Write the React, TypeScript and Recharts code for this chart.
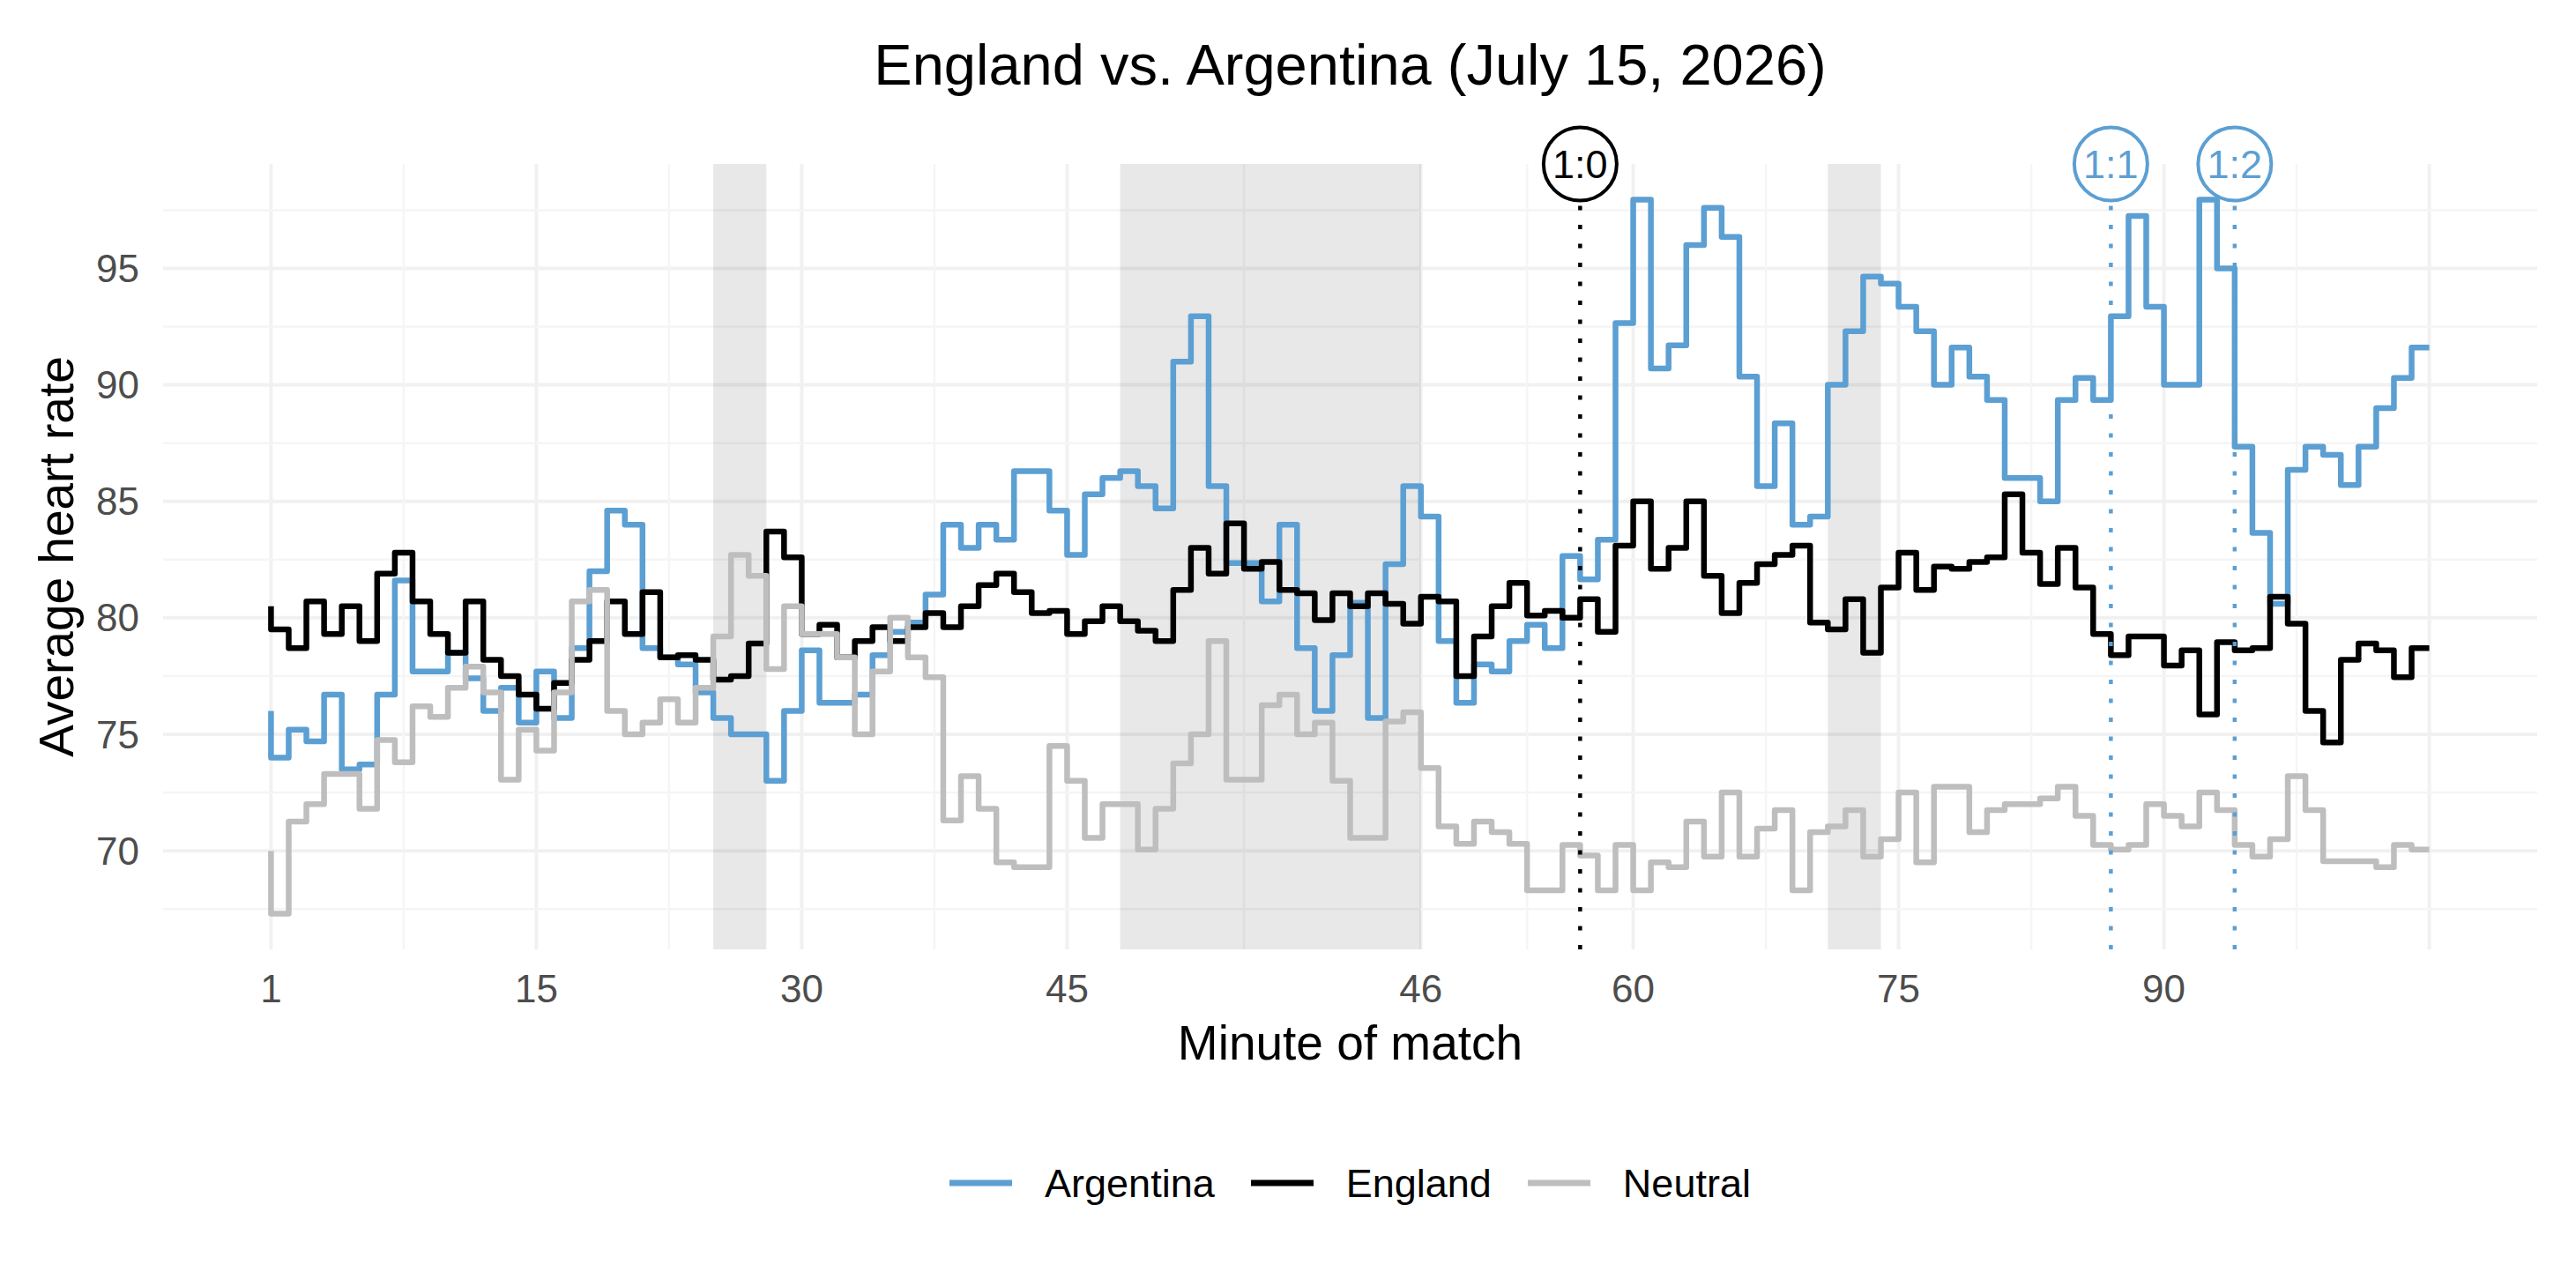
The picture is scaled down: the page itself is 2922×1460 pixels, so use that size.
import React from 'react';
import {
  ComposedChart,
  Line,
  XAxis,
  YAxis,
  CartesianGrid,
  ReferenceArea,
  ReferenceLine,
  ReferenceDot,
  Legend,
} from 'recharts';

const FONT = '"Liberation Sans", Arial, Helvetica, sans-serif';

const TITLE = 'England vs. Argentina (July 15, 2026)';
const X_TITLE = 'Minute of match';
const Y_TITLE = 'Average heart rate';

// one value per minute index (0..122)
const ARGENTINA = [
  76.0, 74.0, 75.2, 74.7, 76.7, 73.5, 73.7, 76.7, 81.6, 77.7,
  77.7, 78.5, 77.4, 76.0, 77.0, 75.5, 77.7, 75.7, 78.7, 82.0,
  84.6, 84.0, 78.7, 78.3, 78.0, 76.8, 75.7, 75.0, 75.0, 73.0,
  76.0, 78.6, 76.35, 76.35, 76.7, 78.4, 79.4, 79.8, 81.0, 84.0,
  83.0, 84.0, 83.35, 86.3, 86.3, 84.6, 82.7, 85.3, 86.0, 86.3,
  85.65, 84.7, 91.0, 92.95, 85.65, 82.35, 82.35, 80.7, 84.0, 78.7,
  76.0, 78.4, 80.65, 75.7, 82.3, 85.65, 84.35, 79.0, 76.35, 78.0,
  77.7, 79.0, 79.7, 78.7, 82.65, 81.65, 83.35, 92.65, 97.95, 90.7,
  91.7, 96.0, 97.6, 96.35, 90.35, 85.65, 88.35, 84.0, 84.35, 90.0,
  92.3, 94.65, 94.35, 93.35, 92.3, 90.0, 91.6, 90.35, 89.35, 86.0,
  86.0, 85.0, 89.35, 90.3, 89.35, 92.95, 97.25, 93.35, 90.0, 90.0,
  97.95, 95.0, 87.35, 83.65, 80.6, 86.35, 87.35, 87.0, 85.7, 87.35,
  89.0, 90.3, 91.6,
];

const ENGLAND = [
  80.5, 79.5, 78.7, 80.7, 79.3, 80.5, 79.0, 81.9, 82.8, 80.7,
  79.3, 78.5, 80.7, 78.2, 77.5, 76.7, 76.1, 77.2, 78.2, 79.0,
  80.7, 79.3, 81.1, 78.3, 78.4, 78.2, 77.35, 77.5, 78.9, 83.7,
  82.6, 79.3, 79.7, 78.3, 79.0, 79.6, 79.0, 79.6, 80.2, 79.6,
  80.5, 81.4, 81.9, 81.1, 80.2, 80.3, 79.3, 79.85, 80.5, 79.85,
  79.45, 79.0, 81.2, 83.0, 81.9, 84.05, 82.1, 82.4, 81.2, 81.05,
  79.9, 81.05, 80.5, 81.05, 80.6, 79.75, 80.9, 80.7, 77.5, 79.2,
  80.5, 81.5, 80.1, 80.3, 80.0, 80.8, 79.4, 83.1, 85.0, 82.1,
  83.0, 85.0, 81.8, 80.2, 81.5, 82.3, 82.7, 83.1, 79.8, 79.5,
  80.8, 78.5, 81.3, 82.8, 81.2, 82.2, 82.1, 82.4, 82.6, 85.3,
  82.8, 81.45, 83.0, 81.3, 79.3, 78.4, 79.2, 79.2, 77.95, 78.6,
  75.85, 78.95, 78.6, 78.7, 80.9, 79.75, 76.0, 74.65, 78.2, 78.9,
  78.6, 77.45, 78.7,
];

const NEUTRAL = [
  70.0, 67.3, 71.25, 72.0, 73.3, 73.3, 71.8, 74.75, 73.8, 76.2,
  75.75, 77.0, 77.9, 76.8, 73.05, 75.2, 74.3, 76.8, 80.7, 81.2,
  76.0, 75.0, 75.5, 76.5, 75.5, 77.0, 79.2, 82.7, 81.8, 77.8,
  80.5, 79.3, 79.3, 78.3, 75.0, 77.7, 80.0, 78.3, 77.45, 71.3,
  73.2, 71.8, 69.5, 69.3, 69.3, 74.5, 73.0, 70.55, 72.0, 72.0,
  70.05, 71.8, 73.75, 75.0, 79.0, 73.05, 73.05, 76.25, 76.7, 75.0,
  75.5, 73.0, 70.55, 70.55, 75.55, 75.95, 73.55, 71.05, 70.3, 71.25,
  70.8, 70.3, 68.3, 68.3, 70.25, 69.8, 68.3, 70.25, 68.3, 69.5,
  69.3, 71.25, 69.75, 72.5, 69.75, 70.95, 71.75, 68.3, 70.8, 71.05,
  71.75, 69.75, 70.5, 72.5, 69.5, 72.75, 72.75, 70.8, 71.75, 72.0,
  72.0, 72.25, 72.75, 71.5, 70.25, 70.05, 70.25, 72.0, 71.5, 71.05,
  72.5, 71.75, 70.25, 69.75, 70.5, 73.2, 71.75, 69.55, 69.55, 69.55,
  69.3, 70.25, 70.05,
];

const SERIES_NAMES = ['Argentina', 'England', 'Neutral'];
const SERIES_COLORS = ['#5C9FD3', '#000000', '#BEBEBE'];
const SERIES_VALUES = [ARGENTINA, ENGLAND, NEUTRAL];

const X_TICKS = [0, 15, 30, 45, 65, 77, 92, 107, 122];
const X_TICK_LABELS = ['1', '15', '30', '45', '46', '60', '75', '90', ''];
const X_MINOR = [7.5, 22.5, 37.5, 55, 71, 84.5, 99.5, 114.5];
const Y_TICKS = [70, 75, 80, 85, 90, 95];
const Y_MINOR = [67.5, 72.5, 77.5, 82.5, 87.5, 92.5, 97.5];

// shaded periods (start, end) on the minute index
const SHADE_START = [25, 48, 88];
const SHADE_END = [28, 65, 91];

// goals
const GOAL_AT = [74, 104, 111];
const GOAL_LABELS = ['1:0', '1:1', '1:2'];
const GOAL_COLORS = ['#000000', '#5C9FD3', '#5C9FD3'];

const data = ARGENTINA.map((_, i) => {
  const row: Record<string, number> = { t: i };
  SERIES_NAMES.forEach((name, s) => {
    row[name] = SERIES_VALUES[s][i];
  });
  return row;
});

const allValues = [...ARGENTINA, ...ENGLAND, ...NEUTRAL];
const yLo = Math.min(...allValues);
const yHi = Math.max(...allValues);
const yPad = (yHi - yLo) * 0.05;
const Y_DOMAIN: [number, number] = [yLo - yPad, yHi + yPad];
const xLast = ARGENTINA.length - 1;
const X_DOMAIN: [number, number] = [-xLast * 0.05, xLast * 1.05];

const YTitle = (props: any) => {
  const vb = props.viewBox || { x: 85, y: 186, width: 100, height: 891 };
  const x = vb.x - 2;
  const y = vb.y + vb.height / 2;
  return (
    <text
      x={x}
      y={y}
      transform={`rotate(-90 ${x} ${y})`}
      textAnchor="middle"
      fontSize={55}
      fontFamily={FONT}
      fill="#000"
    >
      {Y_TITLE}
    </text>
  );
};

const LegendContent = () => (
  <div
    style={{
      display: 'flex',
      justifyContent: 'center',
      alignItems: 'center',
      height: 60,
      fontFamily: FONT,
      fontSize: 45,
      lineHeight: '45px',
      color: '#000',
    }}
  >
    {SERIES_NAMES.map((name, i) => (
      <div
        key={name}
        style={{ display: 'flex', alignItems: 'center', marginLeft: i === 0 ? 0 : 41 }}
      >
        <svg width={71} height={12} style={{ display: 'block' }}>
          <line x1={0} x2={71} y1={6} y2={6} stroke={SERIES_COLORS[i]} strokeWidth={7} />
        </svg>
        <span style={{ marginLeft: 37 }}>{name}</span>
      </div>
    ))}
  </div>
);

export default function App() {
  return (
    <div
      style={{
        position: 'absolute',
        left: 0,
        top: 0,
        width: 2922,
        height: 1460,
        background: '#ffffff',
        fontFamily: FONT,
        overflow: 'hidden',
      }}
    >
      <div
        style={{
          position: 'absolute',
          left: 185,
          width: 2693,
          top: 41,
          textAlign: 'center',
          fontSize: 65,
          lineHeight: '65px',
          color: '#000',
          whiteSpace: 'nowrap',
        }}
      >
        {TITLE}
      </div>
      <ComposedChart
        width={2922}
        height={1460}
        data={data}
        margin={{ top: 186, right: 44, bottom: 173, left: 85 }}
      >
        <CartesianGrid
          horizontalValues={Y_TICKS}
          verticalValues={X_TICKS}
          stroke="#F1F1F1"
          strokeWidth={4}
        />
        <CartesianGrid
          horizontalValues={Y_MINOR}
          verticalValues={X_MINOR}
          stroke="#F5F5F5"
          strokeWidth={2.5}
        />
        <XAxis
          dataKey="t"
          type="number"
          domain={X_DOMAIN}
          ticks={X_TICKS}
          interval={0}
          allowDataOverflow
          tickFormatter={(v: number) => {
            const k = X_TICKS.indexOf(v);
            return k >= 0 ? X_TICK_LABELS[k] : '';
          }}
          axisLine={false}
          tickLine={false}
          tickSize={0}
          tickMargin={29}
          height={150}
          tick={{ fill: '#4D4D4D', fontSize: 44, fontFamily: FONT }}
          label={{
            value: X_TITLE,
            position: 'insideBottom',
            offset: 25,
            fill: '#000',
            fontSize: 55,
            fontFamily: FONT,
          }}
        />
        <YAxis
          type="number"
          domain={Y_DOMAIN}
          ticks={Y_TICKS}
          interval={0}
          allowDataOverflow
          width={100}
          axisLine={false}
          tickLine={false}
          tickSize={0}
          tickMargin={27}
          tick={{ fill: '#4D4D4D', fontSize: 44, fontFamily: FONT }}
          label={<YTitle />}
        />
        {SHADE_START.map((s, i) => (
          <ReferenceArea
            key={`shade-${i}`}
            x1={s}
            x2={SHADE_END[i]}
            fill="#000000"
            fillOpacity={0.09}
            stroke="none"
          />
        ))}
        {SERIES_NAMES.map((name, i) => (
          <Line
            key={name}
            dataKey={name}
            type="stepBefore"
            stroke={SERIES_COLORS[i]}
            strokeWidth={6.5}
            strokeLinejoin="round"
            dot={false}
            activeDot={false}
            isAnimationActive={false}
            legendType="line"
          />
        ))}
        {GOAL_AT.map((g, i) => (
          <ReferenceLine
            key={`goal-line-${i}`}
            x={g}
            stroke={GOAL_COLORS[i]}
            strokeWidth={4.5}
            strokeDasharray="5 16.5"
          />
        ))}
        {GOAL_AT.map((g, i) => (
          <ReferenceDot
            key={`goal-dot-${i}`}
            x={g}
            y={Y_DOMAIN[1]}
            r={41.5}
            fill="#ffffff"
            stroke={GOAL_COLORS[i]}
            strokeWidth={4}
            ifOverflow="visible"
            label={{
              value: GOAL_LABELS[i],
              position: 'center',
              fill: GOAL_COLORS[i],
              fontSize: 45,
              fontFamily: FONT,
            }}
          />
        ))}
        <Legend
          verticalAlign="bottom"
          content={<LegendContent />}
          wrapperStyle={{ left: 185, width: 2693, top: 1312, height: 60 }}
        />
      </ComposedChart>
    </div>
  );
}
